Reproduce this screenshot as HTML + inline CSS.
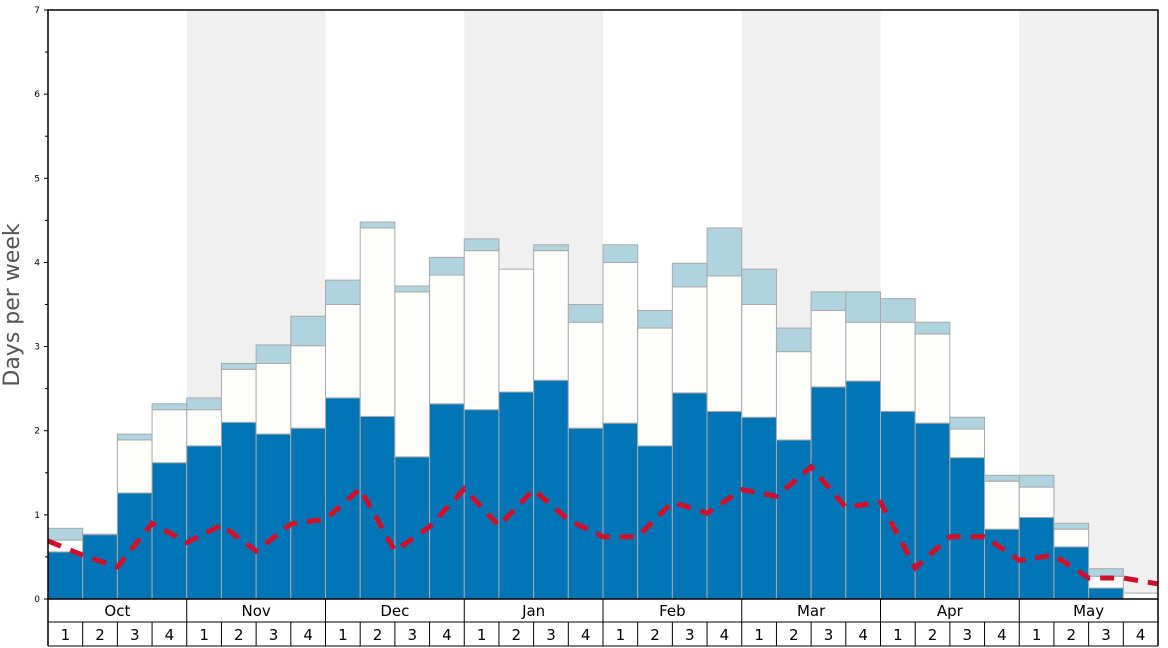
<!DOCTYPE html>
<html><head><meta charset="utf-8"><style>
body{margin:0;background:#fff;}
svg{display:block;font-family:"DejaVu Sans","Liberation Sans",sans-serif;}
</style></head><body>
<svg id="chart" width="1168" height="648" viewBox="0 0 1168 648" xmlns="http://www.w3.org/2000/svg">
<g id="bands"></g><g id="bars"></g><g id="line"></g><g id="axes"></g>
<text transform="translate(19,305) rotate(-90)" text-anchor="middle" font-size="22" fill="#555">Days per week</text>
</svg>
<script>
const months = ["Oct","Nov","Dec","Jan","Feb","Mar","Apr","May"];
const weekLabels = ["1","2","3","4"];
const yTicks = [0,1,2,3,4,5,6,7];
const baseVals = [0.56,0.77,1.26,1.62,1.82,2.10,1.96,2.03,2.39,2.17,1.69,2.32,2.25,2.46,2.60,2.03,2.09,1.82,2.45,2.23,2.16,1.89,2.52,2.59,2.23,2.09,1.68,0.83,0.97,0.62,0.13,0];
const midVals = [0.70,0.77,1.89,2.25,2.25,2.73,2.80,3.01,3.50,4.41,3.65,3.85,4.14,3.92,4.14,3.29,4.00,3.22,3.71,3.84,3.50,2.94,3.43,3.29,3.29,3.15,2.02,1.40,1.33,0.83,0.27,0.07];
const topVals = [0.84,0.77,1.96,2.32,2.39,2.80,3.02,3.36,3.79,4.48,3.72,4.06,4.28,3.92,4.21,3.50,4.21,3.43,3.99,4.41,3.92,3.22,3.65,3.65,3.57,3.29,2.16,1.47,1.47,0.90,0.36,0.07];
const avgVals = [0.69,0.52,0.38,0.90,0.67,0.88,0.57,0.89,0.95,1.31,0.57,0.86,1.31,0.87,1.30,0.94,0.74,0.74,1.15,1.02,1.30,1.22,1.57,1.09,1.15,0.37,0.74,0.74,0.46,0.52,0.25,0.25,0.18];

const NS="http://www.w3.org/2000/svg";
const X0=48,X1=1158,Y0=599,Y1=10,YMAX=7;
const n=baseVals.length, bw=(X1-X0)/n;
const xs=i=>X0+i*bw;
const ys=v=>Y0-(Y0-Y1)*v/YMAX;
function mk(tag,parent,attrs){const e=document.createElementNS(NS,tag);for(const k in attrs)e.setAttribute(k,attrs[k]);parent.appendChild(e);return e;}
const bands=document.getElementById('bands'),bars=document.getElementById('bars'),line=document.getElementById('line'),axes=document.getElementById('axes');
const mw=bw*4;
months.forEach((m,i)=>{
  if(i%2===1){const r=mk('rect',bands,{x:X0+i*mw,y:Y1,width:mw,height:Y0-Y1,fill:'#f0f0f0'});
  
  }
});
for(let i=0;i<n;i++){
  const x=xs(i);
  const segs=[[0,baseVals[i],'#0075b5'],[baseVals[i],midVals[i],'#fdfdfb'],[midVals[i],topVals[i],'#afd3df']];
  segs.forEach((s,k)=>{
    if(s[1]-s[0]<=0.001 && !(k===1 && s[1]>0))return;
    const r=mk('rect',bars,{x:x,y:ys(s[1]),width:bw,height:Math.max(ys(s[0])-ys(s[1]),0.5),fill:s[2],stroke:'#aaa','stroke-width':1});
    
    
  });
}
const pts=avgVals.map((v,i)=>xs(i).toFixed(1)+','+ys(v).toFixed(1)).join(' ');
const pl=mk('polyline',line,{points:pts,fill:'none',stroke:'#d0102a','stroke-width':5,'stroke-dasharray':'14,10'});


const fr=mk('rect',axes,{x:X0,y:Y1,width:X1-X0,height:Y0-Y1,fill:'none',stroke:'#000','stroke-width':1.5});


yTicks.forEach(t=>{
  mk('line',axes,{x1:X0-4,x2:X0,y1:ys(t),y2:ys(t),stroke:'#000'});
  if(t<7)mk('line',axes,{x1:X0-3,x2:X0,y1:ys(t+0.5),y2:ys(t+0.5),stroke:'#000'});
  const tx=mk('text',axes,{x:X0-8,y:ys(t)+3,'text-anchor':'end','font-size':9,fill:'#000'});
  tx.textContent=t;
  
  
});
mk('line',axes,{x1:X0,x2:X1,y1:622,y2:622,stroke:'#000'});
mk('line',axes,{x1:X0,x2:X1,y1:646,y2:646,stroke:'#000'});
mk('line',axes,{x1:X0,x2:X0,y1:Y0,y2:646,stroke:'#000','stroke-width':1.5});
mk('line',axes,{x1:X1,x2:X1,y1:Y0,y2:646,stroke:'#000','stroke-width':1.5});
months.forEach((m,i)=>{
  const x=X0+i*mw;
  if(i>0)mk('line',axes,{x1:x,x2:x,y1:Y0,y2:622,stroke:'#000'});
  const t=mk('text',axes,{x:x+mw/2,y:616,'text-anchor':'middle','font-size':15,fill:'#000'});
  t.textContent=m;
  
  
});
for(let i=0;i<n;i++){
  const x=xs(i);
  if(i>0)mk('line',axes,{x1:x,x2:x,y1:622,y2:646,stroke:'#000'});
  const t=mk('text',axes,{x:x+bw/2,y:640,'text-anchor':'middle','font-size':15,fill:'#000'});
  t.textContent=weekLabels[i%4];
  
  
}
</script>
</body></html>
